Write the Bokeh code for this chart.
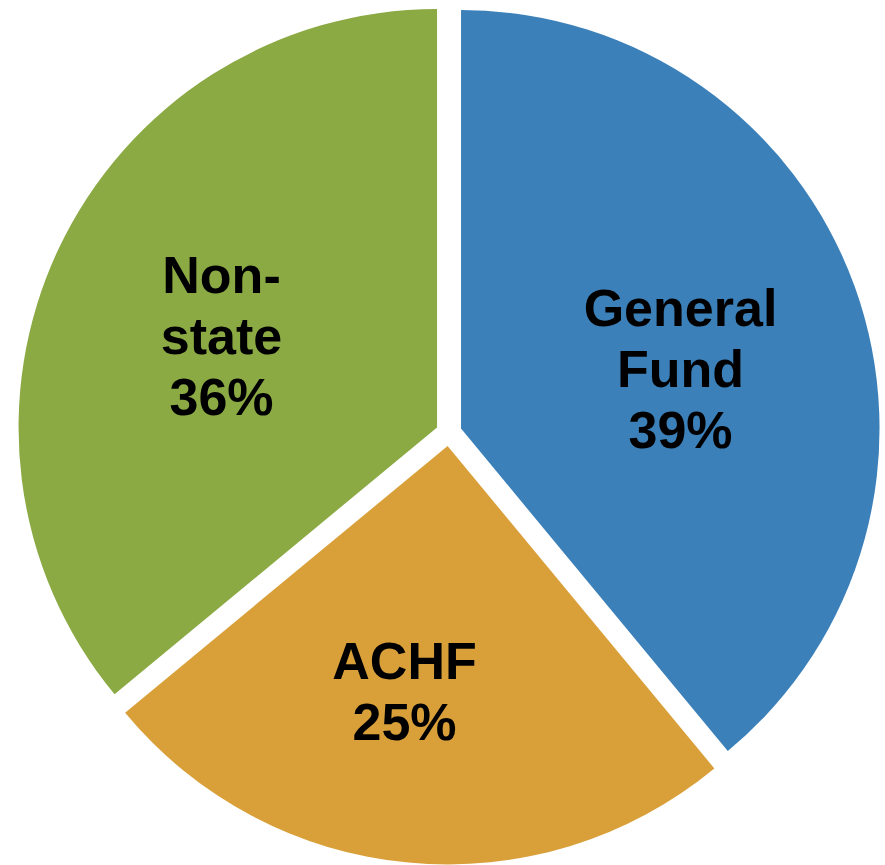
import math
from bokeh.plotting import figure
from bokeh.models import Range1d, ColumnDataSource
from bokeh.core.properties import value
from bokeh.embed import file_html
from bokeh.resources import INLINE

# ---- data ----
categories = ["General Fund", "ACHF", "Non-state"]
shares = [39, 25, 36]
label_lines = [["General", "Fund"], ["ACHF"], ["Non-", "state"]]
colors = ["#3B80B9", "#D9A03A", "#8BAA44"]

# ---- layout (picture pixel coordinates; data y = -picture y) ----
W, H = 885, 865
CX, CY = 448.3, 432.5
R = 418.5
EXPLODE = 13.0
label_anchor = [(680, 429), (404, 721), (221, 396)]  # x centre, last line anchor
LINE_GAP = 61

p = figure(width=W, height=H, output_backend="svg", toolbar_location=None,
           x_range=Range1d(0, W), y_range=Range1d(-H, 0),
           x_axis_type=None, y_axis_type=None, min_border=0,
           outline_line_color=None, background_fill_color="white",
           border_fill_color="white")
p.grid.visible = False

total = float(sum(shares))
xs, ys, starts, ends = [], [], [], []
cum = 0.0
for s in shares:
    a = cum / total
    b = (cum + s) / total
    cum += s
    phi = math.pi / 2 - math.pi * (a + b)
    xs.append(CX + EXPLODE * math.cos(phi))
    ys.append(-CY + EXPLODE * math.sin(phi))
    starts.append(math.pi / 2 - 2 * math.pi * b)
    ends.append(math.pi / 2 - 2 * math.pi * a)

src = ColumnDataSource(dict(x=xs, y=ys, start=starts, end=ends, color=colors,
                            cat=categories, share=shares))
p.wedge(x="x", y="y", radius=R, start_angle="start", end_angle="end",
        direction="anticlock", fill_color="color", line_color=None, source=src)

tx, ty, tt = [], [], []
for lines, s, (ax, ay) in zip(label_lines, shares, label_anchor):
    all_lines = lines + ["%d%%" % s]
    n = len(all_lines)
    for i, t in enumerate(all_lines):
        tx.append(ax)
        ty.append(-(ay - (n - 1 - i) * LINE_GAP))
        tt.append(t)

p.text(x=tx, y=ty, text=tt, text_align="center", text_baseline="alphabetic",
       text_font=value("Liberation Sans"), text_font_style="bold",
       text_font_size="52px", text_color="black")

open("out.html", "w").write(file_html(p, INLINE))
